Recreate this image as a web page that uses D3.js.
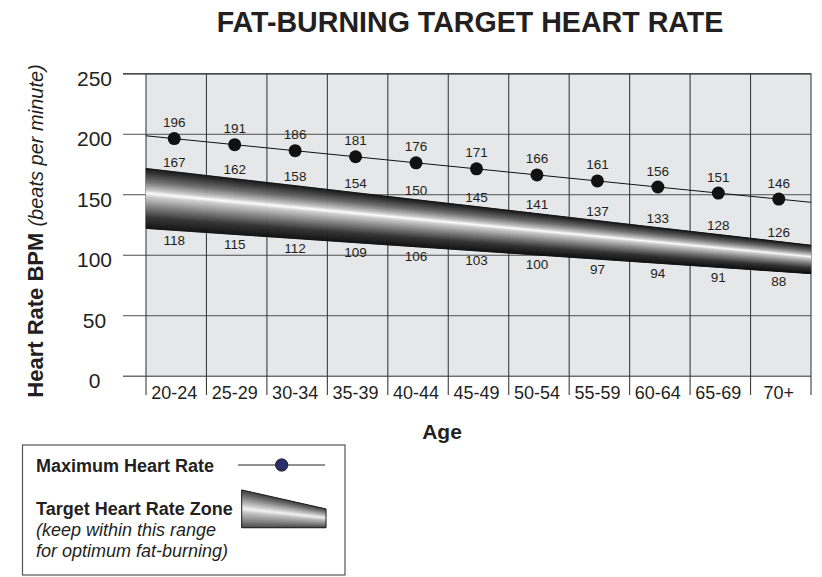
<!DOCTYPE html>
<html>
<head>
<meta charset="utf-8">
<script src="https://cdn.jsdelivr.net/npm/d3@7"></script>
<style>
  html, body { margin: 0; padding: 0; background: #fff; }
  svg { display: block; }
  text { font-family: "Liberation Sans", Arial, Helvetica, sans-serif; fill: #231f20; }
</style>
</head>
<body>
<svg id="chart" width="822" height="577"></svg>
<script>
// ---------------- data ----------------
const ages = ["20-24","25-29","30-34","35-39","40-44","45-49","50-54","55-59","60-64","65-69","70+"];
const maxHeartRate = [196,191,186,181,176,171,166,161,156,151,146];
const zoneUpperLabels = [167,162,158,154,150,145,141,137,133,128,126];
const zoneLowerLabels = [118,115,112,109,106,103,100,97,94,91,88];
// edges of the shaded zone as drawn in the picture (value at each column centre)
const zoneEdgeTop = [168.6,162.8,157.1,151.3,145.5,139.8,134.0,128.2,122.4,116.7,110.9];
const zoneEdgeBottom = [120.2,116.8,113.4,110.0,106.6,103.2,99.8,96.4,93.0,89.6,86.2];
const yTicks = [0,50,100,150,200,250];

// ---------------- layout ----------------
const svg = d3.select("#chart");
const pLeft = 146, pRight = 811, pTop = 73.3, pBottom = 375.7;
const x = d3.scaleBand().domain(ages).range([pLeft, pRight]).padding(0);
const y = d3.scaleLinear().domain([0, 250]).range([pBottom, pTop]);
const cx = d => x(d) + x.bandwidth() / 2 - 2;

// title
svg.append("text").attr("x", 470).attr("y", 32).attr("text-anchor", "middle")
  .style("font-size", "28.6px").style("font-weight", "bold")
  .text("FAT-BURNING TARGET HEART RATE");

// plot background
svg.append("rect").attr("x", pLeft).attr("y", pTop).attr("width", pRight - pLeft).attr("height", pBottom - pTop)
  .attr("fill", "#e6e7e8");

// horizontal grid via axis
const yAxis = svg.append("g").attr("transform", `translate(${pRight},0)`)
  .call(d3.axisLeft(y).tickValues(yTicks).tickSize(pRight - 123).tickPadding(0));
yAxis.select(".domain").remove();
yAxis.selectAll(".tick line")
  .attr("stroke", d => d === 250 ? "#111" : (d === 0 ? "#6d6d6d" : "#4d4d4d"))
  .attr("stroke-width", d => d === 250 ? 1.3 : (d === 0 ? 1.6 : 1));
yAxis.selectAll(".tick text")
  .attr("x", 94.5 - pRight).attr("dy", null).attr("y", 12)
  .attr("text-anchor", "middle")
  .style("font-size", "21px").style("fill", "#231f20")
  .style("font-family", "'Liberation Sans', Arial, Helvetica, sans-serif");

// vertical separators (column boundaries)
const bounds = ages.map(a => x(a)).concat([pRight]);
svg.append("g").selectAll("line").data(bounds).join("line")
  .attr("x1", d => d).attr("x2", d => d)
  .attr("y1", pTop).attr("y2", 395)
  .attr("stroke", "#3d3d3d").attr("stroke-width", 1.1);

// x axis labels
const xAxis = svg.append("g").attr("transform", `translate(-2,${pBottom})`)
  .call(d3.axisBottom(x).tickSize(0).tickPadding(0));
xAxis.select(".domain").remove();
xAxis.selectAll(".tick text")
  .attr("y", 23).attr("dy", null)
  .style("font-size", "18px").style("fill", "#231f20")
  .style("font-family", "'Liberation Sans', Arial, Helvetica, sans-serif");

// ---------------- target zone band (strip gradient) ----------------
function extended(arr) {
  const n = arr.length;
  const c0 = cx(ages[0]), cN = cx(ages[n - 1]);
  const step = cx(ages[1]) - c0;
  const pts = [{ x: pLeft, v: arr[0] + (arr[0] - arr[1]) * (c0 - pLeft) / step }];
  arr.forEach((v, i) => pts.push({ x: cx(ages[i]), v }));
  pts.push({ x: pRight, v: arr[n - 1] + (arr[n - 1] - arr[n - 2]) * (pRight - cN) / step });
  return pts;
}
const topPts = extended(zoneEdgeTop);
const botPts = extended(zoneEdgeBottom);
const bandPts = topPts.map((p, i) => ({ x: p.x, yt: y(p.v), yb: y(botPts[i].v) }));

const shade = d3.scaleLinear()
  .domain([0, 0.06, 0.22, 0.36, 0.42, 0.47, 0.62, 0.82, 1])
  .range(["#141414", "#2a2a2a", "#6e6e6e", "#c4c4c4", "#ffffff", "#cfcfcf", "#8a8a8a", "#333333", "#121212"])
  .interpolate(d3.interpolateRgb);

function drawStrips(g, pts, N, scale) {
  for (let k = 0; k < N; k++) {
    const t0 = k / N, t1 = (k + 1) / N, tm = (t0 + t1) / 2;
    const area = d3.area()
      .x(d => d.x)
      .y0(d => d.yt + (d.yb - d.yt) * t0)
      .y1(d => d.yt + (d.yb - d.yt) * t1);
    const c = scale(tm);
    g.append("path").attr("d", area(pts)).attr("fill", c)
      .attr("stroke", c).attr("stroke-width", 0.6);
  }
}
const bandG = svg.append("g");
drawStrips(bandG, bandPts, 80, shade);
bandG.append("path").attr("d", d3.line().x(d => d.x).y(d => d.yt)(bandPts))
  .attr("fill", "none").attr("stroke", "#111").attr("stroke-width", 0.8);
bandG.append("path").attr("d", d3.line().x(d => d.x).y(d => d.yb)(bandPts))
  .attr("fill", "none").attr("stroke", "#111").attr("stroke-width", 0.8);

// zone labels
svg.append("g").selectAll("text").data(zoneUpperLabels).join("text")
  .attr("x", (d, i) => cx(ages[i])).attr("y", (d, i) => y(zoneEdgeTop[i]) - 5)
  .attr("text-anchor", "middle").style("font-size", "13.5px").text(d => d);
svg.append("g").selectAll("text").data(zoneLowerLabels).join("text")
  .attr("x", (d, i) => cx(ages[i])).attr("y", (d, i) => y(zoneEdgeBottom[i]) + 14.5)
  .attr("text-anchor", "middle").style("font-size", "13.5px").text(d => d);

// ---------------- maximum heart rate line ----------------
const maxPts = extended(maxHeartRate);
svg.append("path").attr("d", d3.line().x(d => d.x).y(d => y(d.v))(maxPts))
  .attr("fill", "none").attr("stroke", "#111").attr("stroke-width", 1);
svg.append("g").selectAll("circle").data(maxHeartRate).join("circle")
  .attr("cx", (d, i) => cx(ages[i])).attr("cy", d => y(d)).attr("r", 6.5)
  .attr("fill", "#111");
svg.append("g").selectAll("text").data(maxHeartRate).join("text")
  .attr("x", (d, i) => cx(ages[i])).attr("y", d => y(d) - 11.5)
  .attr("text-anchor", "middle").style("font-size", "13.5px").text(d => d);

// ---------------- axis titles ----------------
const yt = svg.append("text")
  .attr("transform", "translate(43,231) rotate(-90)")
  .attr("text-anchor", "middle");
yt.append("tspan").style("font-size", "22px").style("font-weight", "bold").text("Heart Rate BPM ");
yt.append("tspan").style("font-size", "20px").style("font-style", "italic").text("(beats per minute)");

svg.append("text").attr("x", 442).attr("y", 439).attr("text-anchor", "middle")
  .style("font-size", "21px").style("font-weight", "bold").text("Age");

// ---------------- legend ----------------
const lg = svg.append("g");
lg.append("rect").attr("x", 22.5).attr("y", 445).attr("width", 322.5).attr("height", 130)
  .attr("fill", "#fff").attr("stroke", "#555").attr("stroke-width", 1.2);
lg.append("text").attr("x", 36).attr("y", 471.5).style("font-size", "18px").style("font-weight", "bold")
  .text("Maximum Heart Rate");
lg.append("line").attr("x1", 238).attr("x2", 325).attr("y1", 465).attr("y2", 465)
  .attr("stroke", "#222").attr("stroke-width", 1);
lg.append("circle").attr("cx", 281.7).attr("cy", 465).attr("r", 6.2)
  .attr("fill", "#2c2d6b").attr("stroke", "#111").attr("stroke-width", 0.8);
lg.append("text").attr("x", 36).attr("y", 515).style("font-size", "18px").style("font-weight", "bold")
  .text("Target Heart Rate Zone");
lg.append("text").attr("x", 36).attr("y", 536).style("font-size", "18px").style("font-style", "italic")
  .text("(keep within this range");
lg.append("text").attr("x", 36).attr("y", 557).style("font-size", "18px").style("font-style", "italic")
  .text("for optimum fat-burning)");
const legShade = d3.scaleLinear()
  .domain([0, 0.15, 0.4, 0.5, 0.6, 0.85, 1])
  .range(["#3a3a3a", "#6a6a6a", "#c8c8c8", "#f4f4f4", "#c4c4c4", "#7a7a7a", "#4a4a4a"]);
const legPts = [{ x: 241.7, yt: 490, yb: 527.7 }, { x: 326, yt: 509, yb: 527.7 }];
const legG = lg.append("g");
drawStrips(legG, legPts, 50, legShade);
legG.append("path")
  .attr("d", `M241.7,490 L326,509 L326,527.7 L241.7,527.7 Z`)
  .attr("fill", "none").attr("stroke", "#222").attr("stroke-width", 1);
</script>
</body>
</html>
